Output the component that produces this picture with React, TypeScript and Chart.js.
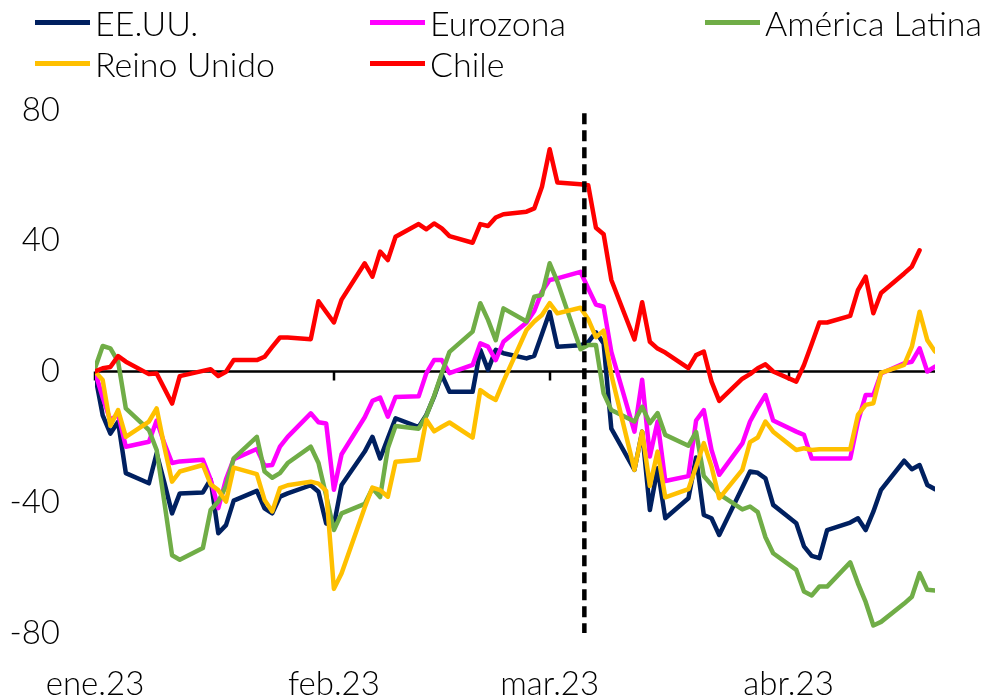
import React, { useEffect, useRef } from "react";
import { Chart, registerables } from "chart.js";

Chart.register(...registerables);

// Days counted from the first date on the axis (ene.23), business days only
const days = [
  0, 1, 2, 3, 4, 7, 8, 9, 10, 11, 14, 15, 16, 17, 18, 21, 22, 23, 24, 25,
  28, 29, 30, 31, 32, 35, 36, 37, 38, 39, 42, 43, 44, 45, 46, 49, 50, 51, 52, 53,
  56, 57, 58, 59, 60, 63, 64, 65, 66, 67, 70, 71, 72, 73, 74, 77, 78, 79, 80, 81,
  84, 85, 86, 87, 88, 91, 92, 93, 94, 95, 98, 99, 100, 101, 102, 105, 106, 107, 108, 109,
];

const eeuu = [
  -1, -13.4, -19, -15.4, -31.1, -34.2, -25, -34, -43.4, -37.3,
  -37, -33, -49.5, -47, -39.5, -36.5, -41.9, -43.4, -38.3, -37.3,
  -34.8, -36.8, -46.5, -47, -34.7, -24.5, -20, -26.6, -20.4, -14.3,
  -17, -13.3, -7.7, -1, -6.2, -6.2, 6.6, 0.5, 6.6, 5.6,
  4.0, 4.8, 11.5, 18.2, 7.6, 8.0, 9.0, 12.0, 8.6, -17.5,
  -30.1, -18.4, -42.4, -29.6, -44.9, -38.8, -26.3, -43.9, -44.9, -50,
  -35.5, -30.6, -31, -32.7, -40.8, -46.4, -53.5, -56.4, -57.1, -48.5,
  -46.2, -44.9, -48.5, -42.9, -36.2, -27.3, -29.9, -28.6, -34.7, -36,
];

const eurozona = [
  0, -8, -15, -13, -23, -21.5, -15, -22, -28, -27.5,
  -27, -33, -41.8, -33, -26.8, -23.7, -28.8, -28.6, -23, -20,
  -12.8, -15.5, -15.9, -36.2, -25.3, -14, -9, -8, -13.8, -7.8,
  -7.6, -0.5, 3.5, 3.5, -0.5, 2, 8.6, 7.6, 3.5, 9.1,
  15, 18.5, 24.5, 28, 28.5, 30.5, 25.4, 20.5, 19.8, 6,
  -18.4, -2.5, -26, -15.3, -33.5, -32, -15, -11.8, -24, -31.6,
  -22, -15.3, -11, -7.2, -15, -18.4, -19.4, -26.6, -26.6, -26.6,
  -26.6, -15.3, -7.2, -7.2, -0.6, 2.5, 3.0, 7.1, 0, 1.5,
];

const americaLatina = [
  1, 7.8, 7.1, 3.0, -11.3, -17.9, -24, -40, -56.2, -57.6,
  -54, -42.4, -39.8, -35, -26.6, -20, -30.6, -32.5, -31.1, -28,
  -23, -28, -38, -48.5, -43.4, -40.5, -35.7, -38.4, -23.5, -16.7,
  -17.5, -13.5, -7.5, -0.5, 6, 12.2, 20.9, 15.8, 9.6, 19.3,
  15.3, 22.9, 23.4, 33.1, 27.5, 6.8, 8.1, 8.1, -6.7, -11.8,
  -15.3, -10.8, -15.8, -12.7, -19.4, -22.7, -18.5, -32, -34.7, -37.5,
  -42.2, -41.3, -43, -50.7, -55.6, -60.7, -67.3, -68.5, -65.8, -65.8,
  -58.4, -64.8, -70.5, -77.7, -76.6, -71, -68.9, -61.7, -66.8, -67,
];

const reinoUnido = [
  0, -2.6, -16.6, -11.8, -20, -15.3, -11.3, -23, -33.7, -30.6,
  -28.6, -34.5, -36.3, -39.8, -29.4, -31.4, -39.3, -42.8, -35.7, -34.8,
  -33.7, -34.3, -36.5, -66.5, -61.7, -41.6, -35.5, -36.3, -38.3, -27.6,
  -27, -14.8, -18.3, -16.9, -15.6, -20.2, -5.7, -7.4, -8.7, -3,
  12.7, 15.3, 17.3, 20.9, 17.8, 19.5, 16, 10.5, 12.5, -1,
  -30.1, -18.4, -35, -24.5, -38.5, -36, -29.1, -21.9, -29.1, -38.8,
  -30.1, -21.6, -20.2, -15.3, -18.4, -24, -23.5, -24, -23.8, -23.8,
  -23.8, -13.3, -10.2, -9.7, -0.4, 2, 7.6, 18.3, 9.6, 6.1,
];

const chile = [
  0, 1, 1.4, 4.7, 3.0, -0.8, -0.6, -5.2, -9.8, -1.4,
  0.2, 0.7, -1.4, -0.1, 3.5, 3.5, 4.5, 7.5, 10.4, 10.4,
  9.9, 21.5, 18.2, 15, 22, 33.1, 29, 36.7, 34.1, 41.2,
  45.1, 43.5, 45.3, 43.8, 41.4, 39.4, 45.1, 44.5, 47.1, 48.1,
  48.9, 49.9, 56.5, 68, 57.8, 57.3, 57, 44, 42, 28,
  9.8, 21.2, 9.1, 7, 5.8, 1, 5, 6.1, -3.1, -9,
  -2.2, -0.8, 1, 2.2, 0, -3.1, 2, 8.4, 15, 15,
  17, 24.9, 29, 17.8, 24, 30, 32.1, 37.1, null, null,
];

const seriesNames = ["EE.UU.", "Eurozona", "América Latina", "Reino Unido", "Chile"];
const seriesValues = [eeuu, eurozona, americaLatina, reinoUnido, chile];
const seriesColors = ["#002060", "#FF00FF", "#70AD47", "#FFC000", "#FF0000"];

const monthTicks = [0, 31, 59, 90];
const monthLabels = ["ene.23", "feb.23", "mar.23", "abr.23"];
const yTicks = [-80, -40, 0, 40, 80];

// Vertical dashed event marker
const eventDays = [63.5, 63.5];
const eventLevels = [79, -80];

const FONT = "Lato, 'Open Sans', sans-serif";

const zeroAxisPlugin = {
  id: "zeroAxis",
  beforeDatasetsDraw(chart: any) {
    const { ctx, chartArea, scales } = chart;
    const x = scales.x;
    const y = scales.y;
    const y0 = y.getPixelForValue(0);
    ctx.save();
    ctx.strokeStyle = "#000";
    ctx.lineWidth = 2.5;
    ctx.beginPath();
    ctx.moveTo(chartArea.left, y0);
    ctx.lineTo(chartArea.right, y0);
    monthTicks.forEach((t) => {
      const px = Math.round(x.getPixelForValue(t));
      ctx.moveTo(px, y0);
      ctx.lineTo(px, y0 + 9);
    });
    ctx.stroke();
    ctx.restore();
  },
};

function toPoints(vals: (number | null)[]) {
  const pts: { x: number; y: number }[] = [];
  vals.forEach((v, i) => {
    if (v !== null && v !== undefined) pts.push({ x: days[i], y: v });
  });
  return pts;
}

export default function App() {
  const canvasRef = useRef<HTMLCanvasElement | null>(null);

  useEffect(() => {
    const canvas = canvasRef.current;
    if (!canvas) return;

    const datasets: any[] = seriesNames.map((name, i) => ({
      label: name,
      data: toPoints(seriesValues[i]),
      borderColor: seriesColors[i],
      backgroundColor: seriesColors[i],
      borderWidth: 4.5,
      pointRadius: 0,
      tension: 0,
      fill: false,
      borderJoinStyle: "round",
      borderCapStyle: "round",
      order: seriesNames.length - i,
    }));

    datasets.push({
      label: "evento",
      data: eventDays.map((d, i) => ({ x: d, y: eventLevels[i] })),
      borderColor: "#000",
      borderWidth: 4.5,
      borderDash: [11, 6],
      pointRadius: 0,
      fill: false,
      order: 0,
    });

    const chart = new Chart(canvas, {
      type: "line",
      data: { datasets },
      plugins: [zeroAxisPlugin],
      options: {
        responsive: false,
        animation: false,
        layout: { padding: { top: 110, right: 54, left: 0, bottom: 0 } },
        plugins: {
          legend: { display: false },
          tooltip: { enabled: false },
          title: { display: false },
        },
        scales: {
          x: {
            type: "linear",
            min: 0,
            max: 109,
            grid: { display: false, drawTicks: false },
            border: { display: false },
            afterBuildTicks: (scale: any) => {
              scale.ticks = monthTicks.map((v) => ({ value: v }));
            },
            afterFit: (scale: any) => {
              scale.height = 64;
            },
            ticks: {
              autoSkip: false,
              maxRotation: 0,
              padding: 32,
              color: "#000",
              font: { family: FONT, size: 33, weight: "300" },
              callback: (value: any) => {
                const idx = monthTicks.indexOf(Number(value));
                return idx >= 0 ? monthLabels[idx] : "";
              },
            },
          },
          y: {
            min: -80,
            max: 80,
            grid: { display: false, drawTicks: false },
            border: { display: false },
            afterBuildTicks: (scale: any) => {
              scale.ticks = yTicks.map((v) => ({ value: v }));
            },
            afterFit: (scale: any) => {
              scale.width = 95;
            },
            ticks: {
              padding: 35,
              color: "#000",
              font: { family: FONT, size: 33, weight: "300" },
            },
          },
        },
      } as any,
    });

    return () => {
      chart.destroy();
    };
  }, []);

  const cols = [35, 370, 705];
  const rows = [22, 63];

  return (
    <div
      style={{
        position: "absolute",
        left: 0,
        top: 0,
        width: 989,
        height: 697,
        background: "#fff",
        overflow: "hidden",
      }}
    >
      <canvas
        ref={canvasRef}
        width={989}
        height={697}
        style={{ position: "absolute", left: 0, top: 0, display: "block" }}
      />
      {seriesNames.map((name, i) => {
        const left = cols[i % 3];
        const cy = rows[Math.floor(i / 3)];
        return (
          <div
            key={name}
            style={{
              position: "absolute",
              left,
              top: cy - 22,
              height: 44,
              display: "flex",
              alignItems: "center",
              fontFamily: FONT,
              fontWeight: 300,
              fontSize: 34,
              color: "#000",
              whiteSpace: "nowrap",
            }}
          >
            <span
              style={{
                display: "inline-block",
                width: 55,
                height: 5,
                background: seriesColors[i],
                marginRight: 5,
              }}
            />
            <span>{name}</span>
          </div>
        );
      })}
    </div>
  );
}
